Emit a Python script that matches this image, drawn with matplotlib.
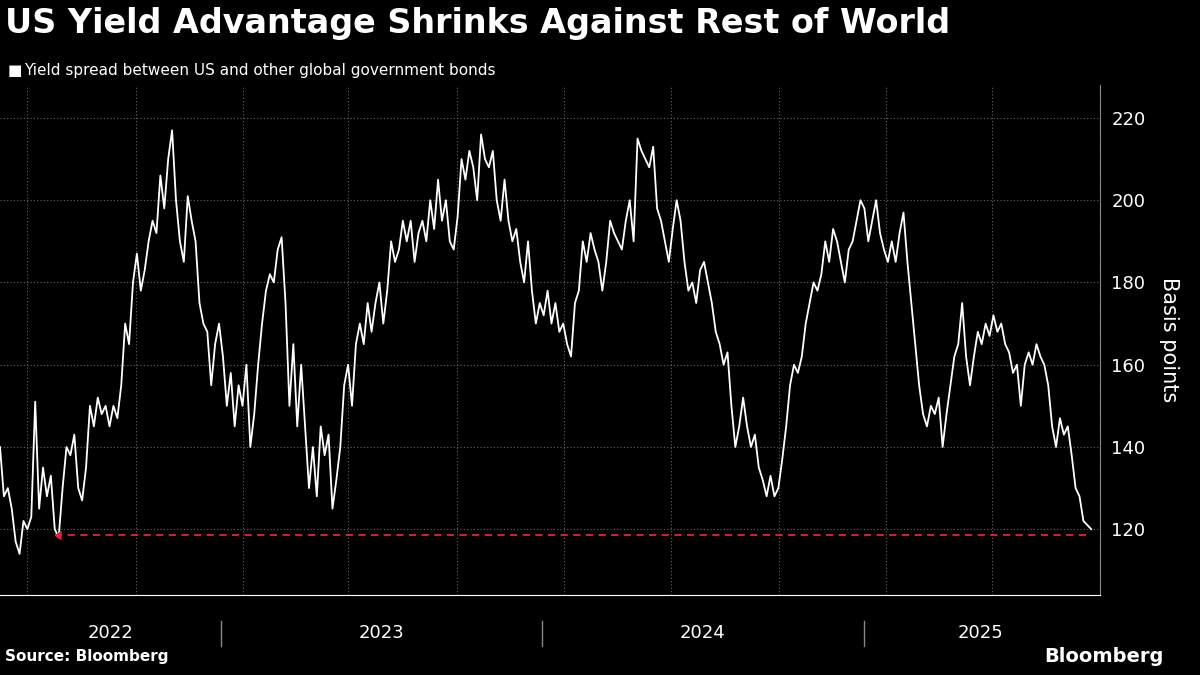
import numpy as np
import pandas as pd
import matplotlib.pyplot as plt
import matplotlib.dates as mdates
from matplotlib.transforms import blended_transform_factory

# spread values (bp), roughly every 4.5 days from late Apr 2022 to mid Sep 2025
spread = [140, 128, 130, 125, 117, 114, 122, 120, 123, 151, 125, 135, 128, 133, 120, 118,
          130, 140, 138, 143, 130, 127, 135, 150, 145, 152, 148, 150, 145, 150, 147, 155,
          170, 165, 180, 187, 178, 183, 190, 195, 192, 206, 198, 210, 217, 200, 190, 185,
          201, 195, 190, 175, 170, 168, 155, 165, 170, 162, 150, 158, 145, 155, 150, 160,
          140, 148, 160, 170, 178, 182, 180, 188, 191, 175, 150, 165, 145, 160, 145, 130,
          140, 128, 145, 138, 143, 125, 132, 140, 155, 160, 150, 165, 170, 165, 175, 168,
          175, 180, 170, 178, 190, 185, 188, 195, 190, 195, 185, 192, 195, 190, 200, 193,
          205, 195, 200, 190, 188, 196, 210, 205, 212, 208, 200, 216, 210, 208, 212, 200,
          195, 205, 195, 190, 193, 185, 180, 190, 178, 170, 175, 172, 178, 170, 175, 168,
          170, 165, 162, 175, 178, 190, 185, 192, 188, 185, 178, 185, 195, 192, 190, 188,
          195, 200, 190, 215, 212, 210, 208, 213, 198, 195, 190, 185, 193, 200, 195, 185,
          178, 180, 175, 183, 185, 180, 175, 168, 165, 160, 163, 150, 140, 145, 152, 145,
          140, 143, 135, 132, 128, 133, 128, 130, 137, 145, 155, 160, 158, 162, 170, 175,
          180, 178, 182, 190, 185, 193, 190, 185, 180, 188, 190, 195, 200, 198, 190, 195,
          200, 192, 188, 185, 190, 185, 192, 197, 185, 175, 165, 155, 148, 145, 150, 148,
          152, 140, 148, 155, 162, 165, 175, 162, 155, 162, 168, 165, 170, 167, 172, 168,
          170, 165, 163, 158, 160, 150, 160, 163, 160, 165, 162, 160, 155, 145, 140, 147,
          143, 145, 138, 130, 128, 122, 121, 120]
start_date = "2022-04-25"
end_date = "2025-09-16"
low_level = 118.5
low_date = "2022-06-26"
years = ["2022", "2023", "2024", "2025"]
yticks = [120, 140, 160, 180, 200, 220]

dates = pd.date_range(start_date, end_date, periods=len(spread))

fig = plt.figure(figsize=(12, 6.75), dpi=100, facecolor="black")
ax = fig.add_axes([0.0, 0.1185, 0.9167, 0.7555], facecolor="black")

ax.plot(dates, spread, color="white", lw=1.3)
ax.plot([pd.Timestamp(low_date), dates[-1]], [low_level, low_level],
        color="#e8213b", lw=1.3, ls=(0, (4, 3)))
ax.plot([pd.Timestamp(low_date)], [low_level], marker=4, color="#e8213b", ms=6)

ax.set_xlim(dates[0], pd.Timestamp("2025-09-22"))
ax.set_ylim(104, 228)
ax.yaxis.tick_right()
ax.set_yticks(yticks)
ax.tick_params(axis="y", colors="white", labelsize=13, length=0, pad=8)
ax.yaxis.set_label_position("right")
ax.set_ylabel("Basis points", color="white", fontsize=15, labelpad=10, rotation=270, va="bottom")

grid_dates = pd.date_range("2022-05-01", "2025-09-01", freq="4MS")
ax.set_xticks(grid_dates + pd.Timedelta(days=25))
ax.set_xticklabels([])
ax.tick_params(axis="x", length=0)
ax.grid(True, color="#666666", ls=(0, (1, 2)), lw=0.8)

for s in ["top", "left"]:
    ax.spines[s].set_visible(False)
ax.spines["bottom"].set_color("white")
ax.spines["right"].set_color("#888888")

tr = blended_transform_factory(ax.transData, ax.transAxes)
for y in years:
    mid = max(pd.Timestamp(f"{y}-01-01"), dates[0])
    end = min(pd.Timestamp(f"{y}-12-31"), pd.Timestamp("2025-09-22"))
    c = mid + (end - mid) / 2
    ax.text(c, -0.075, y, transform=tr, color="white", fontsize=13, ha="center", va="center")
    if y != "2022":
        ax.plot([pd.Timestamp(f"{y}-01-01")] * 2, [-0.05, -0.1], transform=tr,
                color="#888888", lw=1, clip_on=False)

fig.text(0.004, 0.965, "US Yield Advantage Shrinks Against Rest of World", color="white",
         fontsize=24, fontweight="bold", va="center")
fig.text(0.006, 0.895, "\u25A0", color="white", fontsize=11, va="center")
fig.text(0.02, 0.895, "Yield spread between US and other global government bonds",
         color="white", fontsize=11, va="center")
fig.text(0.004, 0.02, "Source: Bloomberg", color="white", fontsize=11, fontweight="bold")
fig.text(0.97, 0.02, "Bloomberg", color="white", fontsize=14, fontweight="bold", ha="right")

fig.savefig("out.png", facecolor="black")
